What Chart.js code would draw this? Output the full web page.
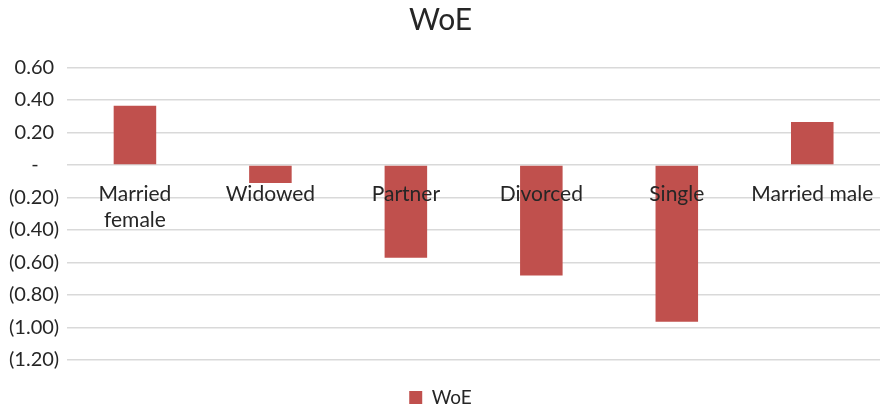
<!DOCTYPE html>
<html>
<head>
<meta charset="utf-8">
<title>WoE</title>
<script src="https://cdn.jsdelivr.net/npm/chart.js@4"></script>
<style>
  html, body { margin: 0; padding: 0; background: #ffffff; }
  #wrap { width: 880px; height: 408px; position: relative; }
</style>
</head>
<body>
<div id="wrap"><canvas id="chart"></canvas></div>
<script>
// Weight of evidence per marital status
const categories = [['Married', 'female'], 'Widowed', 'Partner', 'Divorced', 'Single', 'Married male'];
const woeValues = [0.365, -0.11, -0.57, -0.68, -0.965, 0.265];
const seriesName = 'WoE';
const yMin = -1.2;
const yMax = 0.6;
const yStep = 0.2;

const FONT = 'Lato, "Open Sans", sans-serif';
const TEXT = '#262626';
const BAR = '#C0504D';

// Accounting-style tick text: 0.60, -, (0.20)
function accounting(v) {
  const r = Math.round(v * 100) / 100;
  if (r === 0) return '-    ';
  if (r < 0) return '(' + Math.abs(r).toFixed(2) + ')';
  return r.toFixed(2) + ' ';
}

new Chart(document.getElementById('chart'), {
  type: 'bar',
  data: {
    labels: categories,
    datasets: [{
      label: seriesName,
      data: woeValues,
      backgroundColor: BAR,
      borderWidth: 0,
      categoryPercentage: 1.0,
      barPercentage: 0.314
    }]
  },
  options: {
    responsive: true,
    maintainAspectRatio: false,
    animation: false,
    layout: { padding: { left: 1, right: 0, top: 0, bottom: -9 } },
    plugins: {
      title: {
        display: true,
        text: 'WoE',
        color: TEXT,
        font: { family: FONT, size: 30, weight: 'normal' },
        padding: { top: 2, bottom: 29.5 }
      },
      legend: {
        display: true,
        position: 'bottom',
        labels: {
          color: TEXT,
          font: { family: FONT, size: 19 },
          boxWidth: 13,
          boxHeight: 13,
          padding: 28
        }
      },
      tooltip: { enabled: false }
    },
    scales: {
      x: {
        type: 'category',
        position: { y: 0 },
        grid: { display: false, drawTicks: false },
        border: { display: false },
        // the category labels sit inside the plot, so they need no side margin
        afterFit: (scale) => { scale.paddingLeft = 0; scale.paddingRight = 0; },
        ticks: {
          z: 1,
          color: TEXT,
          font: { family: FONT, size: 21 },
          padding: 17,
          maxRotation: 0,
          autoSkip: false
        }
      },
      y: {
        min: yMin,
        max: yMax,
        grid: { color: '#d9d9d9', lineWidth: 1.5, drawTicks: false },
        border: { display: false },
        ticks: {
          stepSize: yStep,
          color: TEXT,
          font: { family: FONT, size: 20 },
          padding: 8,
          callback: (v) => accounting(v)
        }
      }
    }
  }
});
</script>
</body>
</html>
